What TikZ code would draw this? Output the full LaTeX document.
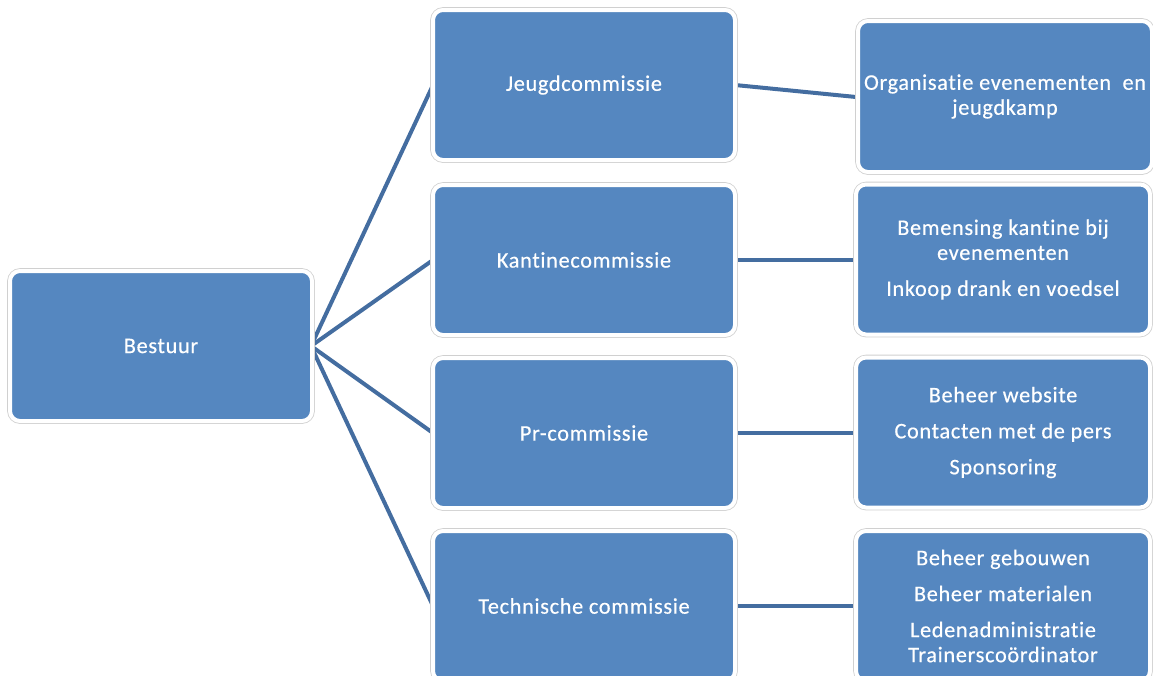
\documentclass[tikz,border=0pt]{standalone}
\usepackage{fontspec}
\setmainfont{Carlito}[LetterSpace=3, Ligatures=NoCommon, FakeBold=0.4]
\definecolor{boxblue}{HTML}{5587C0}
\definecolor{lineblue}{HTML}{446DA0}
\definecolor{rimgray}{HTML}{D0D0D0}
\tikzset{
  orgbox/.style={rounded corners=10pt, fill=boxblue, draw=white, line width=4pt,
    preaction={draw=rimgray, line width=5.6pt},
    text=white, align=center, inner sep=0pt,
    font=\fontsize{22.3}{25}\selectfont},
  lvlA/.style={orgbox, minimum width=302pt, minimum height=150pt},
  lvlC/.style={orgbox, minimum width=294pt, minimum height=150pt},
  conn/.style={draw=lineblue, line width=4pt}
}
\begin{document}
\begin{tikzpicture}[x=1pt,y=-1pt]
\useasboundingbox (0,0) rectangle (1153,675);
% connectors first
\coordinate (bR) at (311,346);
\coordinate (jL) at (433,85);
\coordinate (kL) at (433,260);
\coordinate (pL) at (433,433);
\coordinate (tL) at (433,606);
\draw[conn] (bR) -- (jL);
\draw[conn] (bR) -- (kL);
\draw[conn] (bR) -- (pL);
\draw[conn] (bR) -- (tL);
\draw[conn] (735,85) coordinate (jR) -- (856,97) coordinate (oL);
\draw[conn] (735,260) coordinate (kR) -- (856,260) coordinate (bmL);
\draw[conn] (735,433) coordinate (pR) -- (856,433) coordinate (wL);
\draw[conn] (735,606) coordinate (tR) -- (856,606) coordinate (gL);
% boxes
\node[lvlA] (bestuur) at (161,346) {Bestuur};
\node[lvlA] (jeugd) at (584,85) {Jeugdcommissie};
\node[lvlA] (kantine) at (584,260) {Kantinecommissie};
\node[lvlA] (pr) at (584,433) {Pr-commissie};
\node[lvlA] (tech) at (584,606) {Technische commissie};
\node[lvlC, minimum height=151pt] (org) at (1005,96.5) {Organisatie evenementen\ \ en\\jeugdkamp};
\node[lvlC] (bem) at (1003,259.5) {Bemensing kantine bij\\evenementen\\[11pt]Inkoop drank en voedsel};
\node[lvlC] (web) at (1003,432.5) {Beheer website\\[11pt]Contacten met de pers\\[11pt]Sponsoring};
\node[lvlC] (geb) at (1003,606) {Beheer gebouwen\\[11pt]Beheer materialen\\[11pt]Ledenadministratie\\Trainerscoördinator};
\end{tikzpicture}
\end{document}
